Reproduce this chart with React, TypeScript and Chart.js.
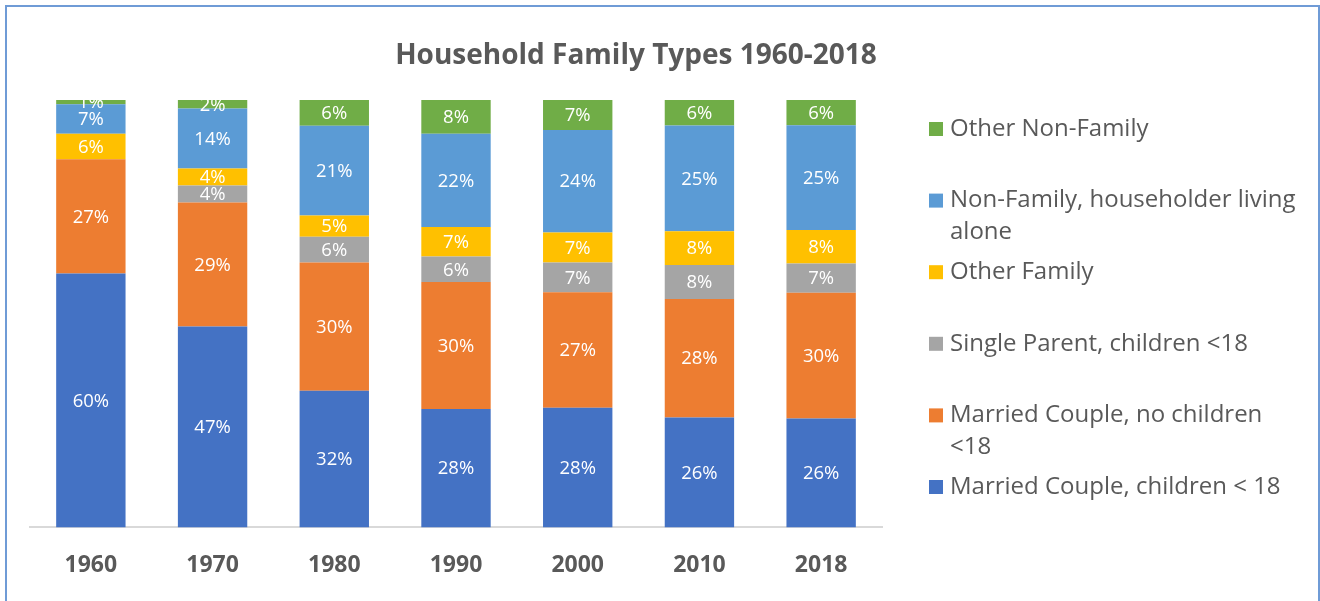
import React, { useEffect, useRef } from "react";
import { Chart, registerables } from "chart.js";

Chart.register(...registerables);

const TITLE = "Household Family Types 1960-2018";
const YEARS = ["1960", "1970", "1980", "1990", "2000", "2010", "2018"];

const SERIES_NAMES = [
  "Married Couple, children < 18",
  "Married Couple, no children <18",
  "Single Parent, children <18",
  "Other Family",
  "Non-Family, householder living alone",
  "Other Non-Family",
];

const marriedChildren = [60, 47, 32, 28, 28, 26, 26];
const marriedNoChildren = [27, 29, 30, 30, 27, 28, 30];
const singleParent = [0, 4, 6, 6, 7, 8, 7];
const otherFamily = [6, 4, 5, 7, 7, 8, 8];
const nonFamilyAlone = [7, 14, 21, 22, 24, 25, 25];
const otherNonFamily = [1, 2, 6, 8, 7, 6, 6];

const SERIES_VALUES = [
  marriedChildren,
  marriedNoChildren,
  singleParent,
  otherFamily,
  nonFamilyAlone,
  otherNonFamily,
];

const COLORS = ["#4472C4", "#ED7D31", "#A5A5A5", "#FFC000", "#5B9BD5", "#70AD47"];

const TEXT_COLOR = "#595959";
const FONT = "'Open Sans', 'DejaVu Sans', sans-serif";

// 100% stacked: normalise each column to its total
const totals = YEARS.map((_, j) => SERIES_VALUES.reduce((s, arr) => s + arr[j], 0));
const normalised = SERIES_VALUES.map((arr) => arr.map((v, j) => (v / totals[j]) * 100));

function wrapText(ctx: CanvasRenderingContext2D, text: string, maxWidth: number): string[] {
  const words = text.split(" ");
  const lines: string[] = [];
  let cur = "";
  for (const w of words) {
    const test = cur ? cur + " " + w : w;
    if (ctx.measureText(test).width > maxWidth && cur) {
      lines.push(cur);
      cur = w;
    } else {
      cur = test;
    }
  }
  if (cur) lines.push(cur);
  return lines;
}

const decorPlugin = {
  id: "decor",
  afterDatasetsDraw(chart: any) {
    const ctx: CanvasRenderingContext2D = chart.ctx;
    ctx.save();
    ctx.font = `18.5px ${FONT}`;
    ctx.fillStyle = "#ffffff";
    ctx.textAlign = "center";
    ctx.textBaseline = "middle";
    chart.data.datasets.forEach((ds: any, i: number) => {
      const meta = chart.getDatasetMeta(i);
      meta.data.forEach((bar: any, j: number) => {
        const v = SERIES_VALUES[i][j];
        if (!v) return;
        const p = bar.getProps(["x", "y", "base"], true);
        ctx.fillText(`${v}%`, p.x, (p.y + p.base) / 2 + 1);
      });
    });
    ctx.restore();
  },
  afterDraw(chart: any) {
    const ctx: CanvasRenderingContext2D = chart.ctx;
    const area = chart.chartArea;
    ctx.save();
    ctx.font = `bold 28px ${FONT}`;
    ctx.fillStyle = TEXT_COLOR;
    ctx.textAlign = "center";
    ctx.textBaseline = "middle";
    ctx.fillText(TITLE, 636, 56);

    const lx = area.right + 47;
    const slot = 71.6;
    const lineH = 32;
    let y = 129;
    ctx.font = `24px ${FONT}`;
    ctx.textAlign = "left";
    for (let k = SERIES_NAMES.length - 1; k >= 0; k--) {
      ctx.fillStyle = COLORS[k];
      ctx.fillRect(lx, y - 7, 14, 14);
      ctx.fillStyle = TEXT_COLOR;
      const lines = wrapText(ctx, SERIES_NAMES[k], 352);
      lines.forEach((ln, li) => ctx.fillText(ln, lx + 21, y + li * lineH));
      y += slot;
    }
    ctx.restore();
  },
};

export default function App() {
  const ref = useRef<HTMLCanvasElement | null>(null);
  useEffect(() => {
    if (!ref.current) return;
    const chart = new Chart(ref.current, {
      type: "bar",
      data: {
        labels: YEARS,
        datasets: SERIES_NAMES.map((name, i) => ({
          label: name,
          data: normalised[i],
          backgroundColor: COLORS[i],
          borderWidth: 0,
          categoryPercentage: 1,
          barPercentage: 0.57,
        })),
      },
      options: {
        animation: false,
        responsive: false,
        maintainAspectRatio: false,
        layout: { padding: { left: 30, right: 438, top: 100, bottom: -2 } },
        plugins: {
          legend: { display: false },
          title: { display: false },
          tooltip: { enabled: false },
        },
        scales: {
          x: {
            stacked: true,
            grid: { display: false, drawTicks: false },
            border: { display: true, color: "#d9d9d9", width: 2 },
            ticks: {
              color: TEXT_COLOR,
              font: { family: FONT, size: 23, weight: "bold" },
              padding: 24,
            },
          },
          y: {
            stacked: true,
            display: false,
            min: 0,
            max: 100,
          },
        },
      },
      plugins: [decorPlugin],
    });
    return () => chart.destroy();
  }, []);

  return (
    <div style={{ position: "fixed", left: 0, top: 0, width: 1320, height: 601, background: "#fff", overflow: "hidden" }}>
      <canvas ref={ref} width={1320} height={601} style={{ position: "absolute", left: 0, top: 0 }} />
      <div
        style={{
          position: "absolute",
          left: 5,
          top: 5,
          width: 1311,
          height: 640,
          border: "2px solid #6f9bd6",
          pointerEvents: "none",
        }}
      />
    </div>
  );
}
